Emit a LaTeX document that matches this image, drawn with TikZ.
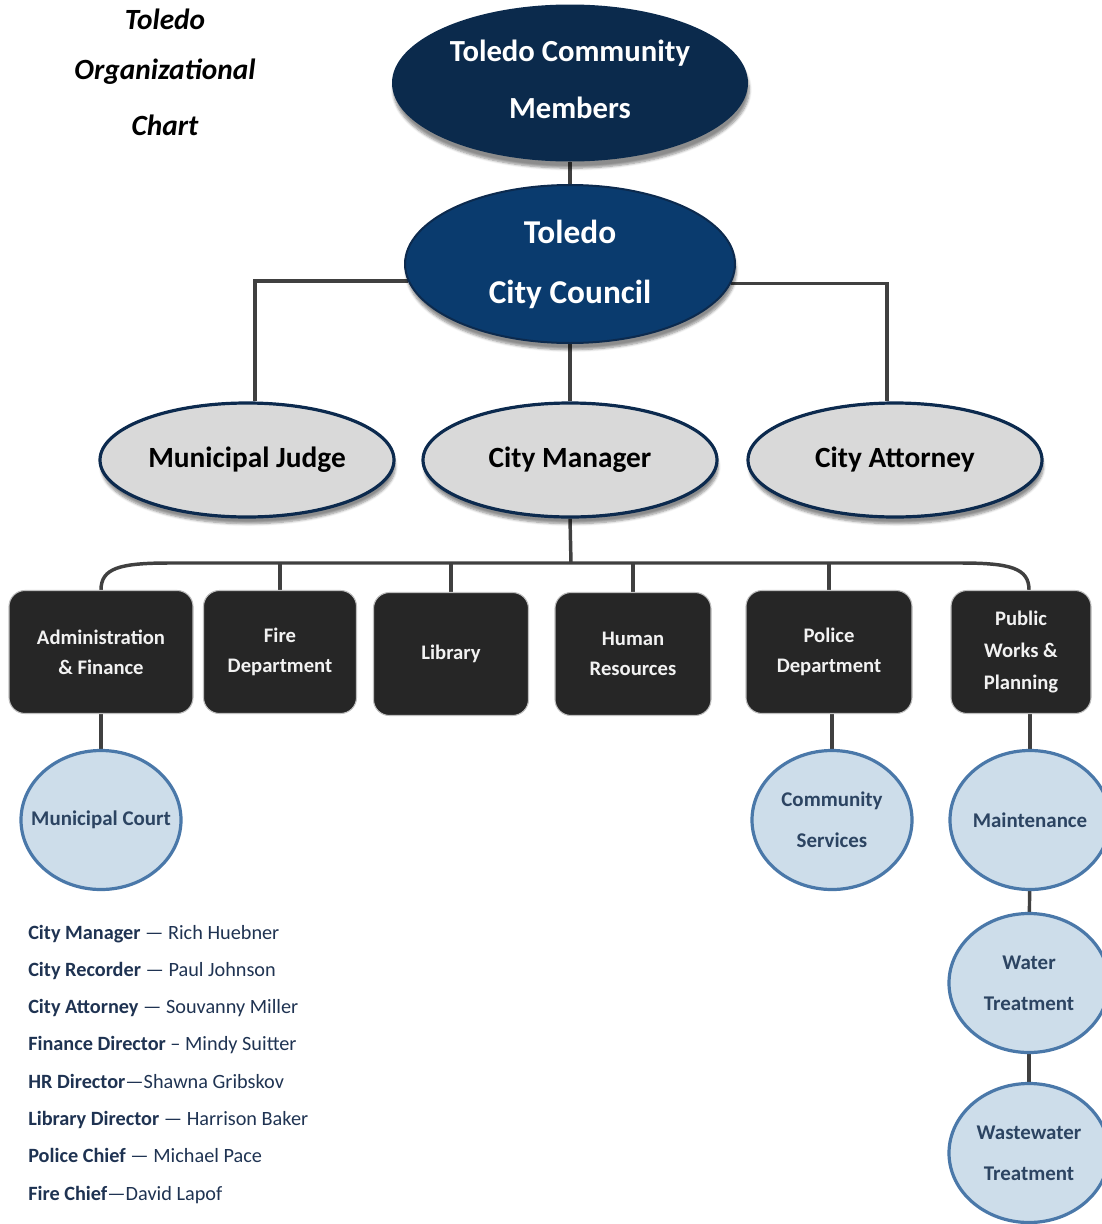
\documentclass[tikz,border=0pt]{standalone}
\usepackage{fontspec}
\setmainfont{Carlito}
\usetikzlibrary{shapes.geometric,backgrounds,shadows.blur}

\definecolor{navydark}{HTML}{0B2A4C}
\definecolor{navy}{HTML}{0A3B6E}
\definecolor{navyline}{HTML}{0C2A4E}
\definecolor{judgegray}{HTML}{D9D9D9}
\definecolor{boxblack}{HTML}{262626}
\definecolor{boxedge}{HTML}{BFBFBF}
\definecolor{paleblue}{HTML}{CDDDEA}
\definecolor{steel}{HTML}{4A78A9}
\definecolor{slate}{HTML}{2C4462}
\definecolor{linegray}{HTML}{404040}
\definecolor{listblue}{HTML}{1F3352}

\tikzset{
  softshadow/.style={blur shadow={shadow xshift=1pt,shadow yshift=-5pt,
      shadow blur steps=6,shadow opacity=45}},
  conn/.style={draw=linegray,line width=2.6pt},
  titletext/.style={font=\fontsize{22}{26}\selectfont\bfseries\itshape},
  topoval/.style={ellipse,fill=navydark,text=white,inner sep=0pt,
      minimum width=267pt,minimum height=117.75pt,align=center,
      font=\fontsize{23}{42.75}\selectfont\bfseries,softshadow},
  counciloval/.style={ellipse,fill=navy,draw=navyline,line width=1.5pt,
      text=white,inner sep=0pt,minimum width=247.5pt,minimum height=118.5pt,
      align=center,font=\fontsize{25}{45}\selectfont\bfseries,softshadow},
  officeoval/.style={ellipse,fill=judgegray,draw=navyline,line width=2.4pt,
      inner sep=0pt,minimum width=220.5pt,minimum height=85.5pt,
      font=\fontsize{22}{26}\selectfont\bfseries,softshadow},
  deptbox/.style={rectangle,rounded corners=12pt,fill=boxblack,draw=boxedge,
      line width=0.8pt,text=white!95!black,inner sep=0pt,minimum height=92.25pt,
      align=center,font=\fontsize{15.5}{22.5}\selectfont\bfseries},
  unitcircle/.style={ellipse,fill=paleblue,draw=steel,line width=2.4pt,
      inner sep=0pt,minimum width=120pt,minimum height=104.25pt,text=slate,
      align=center,font=\fontsize{15.7}{31}\selectfont\bfseries},
  staffline/.style={anchor=base west,inner sep=0pt,text=listblue,
      font=\fontsize{15.2}{18}\selectfont}
}

\begin{document}
\begin{tikzpicture}[x=0.75pt,y=-0.75pt]
\useasboundingbox (0,0) rectangle (1102,1224);

% title
\foreach \t [count=\i from 0] in {Toledo,Organizational,Chart}
  \node[titletext] (title\i) at (165,{19+53*\i}) {\t};

% top of the chart
\node[topoval] (members) at (570,83) {Toledo Community\\Members\rule[-6pt]{0pt}{1pt}};
\node[counciloval] (council) at (570,264) {Toledo\\City Council};
\node[officeoval] (judge) at (247,460) {Municipal Judge};
\node[officeoval] (manager) at (570,460) {City Manager};
\node[officeoval] (attorney) at (895,460) {City Attorney};

% departments
\node[deptbox,minimum width=138pt] (admin) at (101,652) {Administration\\\& Finance};
\node[deptbox,minimum width=114.75pt] (fire) at (280,652) {Fire\\Department};
\node[deptbox,minimum width=116.25pt] (library) at (451,654) {Library};
\node[deptbox,minimum width=117pt] (hr) at (633,654) {Human\\Resources};
\node[deptbox,minimum width=124.5pt] (police) at (829,652) {Police\\Department};
\node[deptbox,minimum width=105pt,font=\fontsize{15.5}{24}\selectfont\bfseries] (pubworks) at (1021,652) {Public\\Works \&\\Planning};

% divisions
\node[unitcircle] (court) at (101,820) {\makebox[0pt]{Municipal Court}};
\node[unitcircle] (community) at (832,820) {Community\\Services};
\node[unitcircle] (maint) at (1030,820) {\makebox[0pt]{Maintenance}};
\node[unitcircle] (water) at (1029,983) {Water\\Treatment};
\node[unitcircle] (waste) at (1029,1153) {Wastewater\\Treatment};

% staff list
\foreach \role/\rest [count=\i from 0] in {
    City Manager/~— Rich Huebner,
    City Recorder/~— Paul Johnson,
    City Attorney/~— Souvanny Miller,
    Finance Director/~– Mindy Suitter,
    HR Director/—Shawna Gribskov,
    Library Director/~— Harrison Baker,
    Police Chief/~— Michael Pace,
    Fire Chief/—David Lapof}
  \node[staffline] (staff\i) at (28,{939+37.3*\i}) {\textbf{\role}\rest};

% connectors
\begin{scope}[on background layer]
\coordinate (bus) at (571,563);
\draw[conn] (members) -- (council);
\draw[conn] (council.186) -| ([xshift=6pt]judge.north);
\draw[conn] (council.-7) -| ([xshift=-6pt]attorney.north);
\draw[conn] (council) -- (manager);
\draw[conn] (manager.south) -- (bus);
\draw[conn] (admin.north) .. controls +(0,-22) and +(-50,0) .. (170,563)
  -- (960,563) .. controls +(50,0) and +(0,-22) .. ([xshift=6pt]pubworks.north);
\foreach \d in {fire,library,hr,police}
  \draw[conn] (\d.north) -- (\d.north |- bus);
\draw[conn] (admin) -- (court);
\draw[conn] (community.north) -- (community.north |- police.south);
\draw[conn] (maint.north) -- (maint.north |- pubworks.south);
\draw[conn] (maint) -- (water);
\draw[conn] (water) -- (waste);
\end{scope}
\end{tikzpicture}
\end{document}
